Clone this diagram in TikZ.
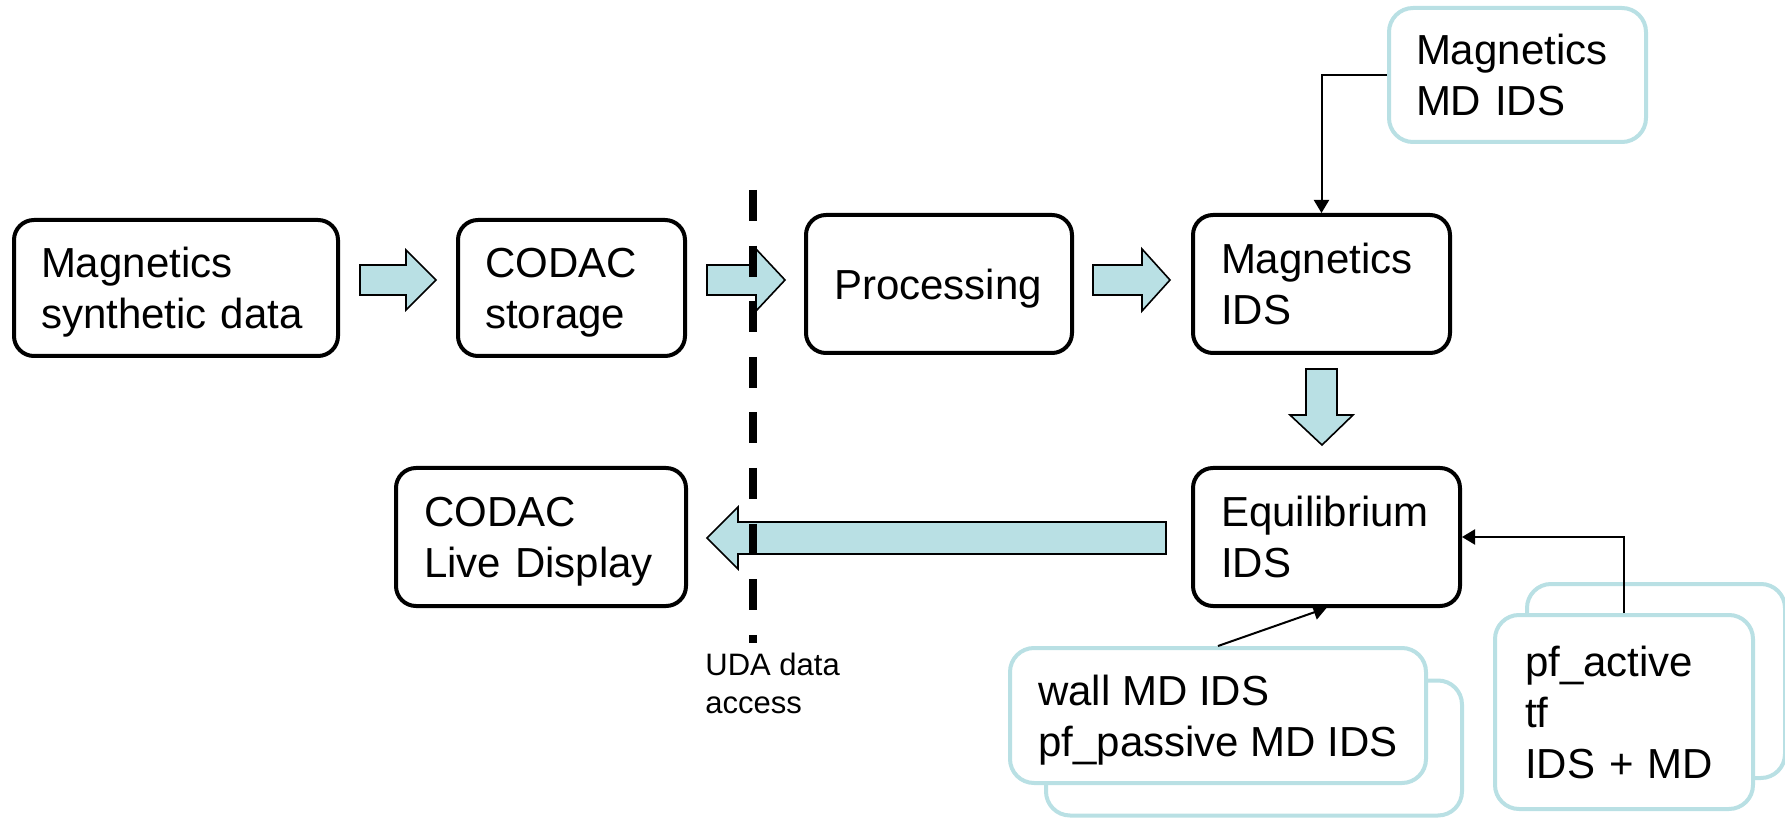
\documentclass[tikz,border=0pt]{standalone}
\usepackage{fontspec}
\setmainfont{Liberation Sans}
\usetikzlibrary{arrows.meta}
\definecolor{paleblue}{RGB}{185,224,228}
% a line whose descenders do not count when the text is centred
\newcommand\nodp[1]{\raisebox{0pt}[\height][0pt]{#1}}
\begin{document}
\begin{tikzpicture}[x=0.5pt,y=-0.5pt,
  box/.style={draw=black, line width=2pt, rounded corners=10pt, fill=white,
    align=left, inner ysep=0pt, font=\fontsize{21}{25.5}\selectfont},
  mdbox/.style={box, draw=paleblue, rounded corners=12pt},
  flow/.style={draw=black, line width=0.8pt, fill=paleblue, line join=miter},
  conn/.style={line width=1pt, -{Triangle[length=6.5pt,width=7.5pt]}},
  divider/.style={line width=4pt, dash pattern=on 15.5pt off 12.3pt},
  note/.style={align=left, inner sep=0pt, font=\fontsize{15.5}{18.8}\selectfont}]
\useasboundingbox (0,0) rectangle (1785,818);

% stacked metadata boxes (back sheets first)
\node[mdbox, minimum width=208pt, minimum height=67.5pt] (wallback) at (1254,748) {};
\node[mdbox, minimum width=129pt, minimum height=97pt] (pfback) at (1656,681) {};

% main processing chain
\node[box, minimum width=162pt, minimum height=68pt, inner xsep=13.5pt, text width=135pt]
  (synth) at (176,288) {Magnetics\\\nodp{synthetic data}};
\node[box, minimum width=113.5pt, minimum height=68pt, inner xsep=13.5pt, text width=86.5pt]
  (storage) at (571.5,288) {CODAC\\\nodp{storage}};
\node[box, minimum width=133pt, minimum height=69pt, inner xsep=14pt, text width=105pt]
  (proc) at (939,284) {\nodp{Processing}};
\node[box, minimum width=128.5pt, minimum height=69pt, inner xsep=14pt, text width=100.5pt]
  (magids) at (1321.5,284) {Magnetics\\IDS};
\node[box, minimum width=133.5pt, minimum height=69pt, inner xsep=14pt, text width=105.5pt]
  (eqids) at (1326.5,537) {Equilibrium\\IDS};
\node[box, minimum width=145pt, minimum height=69pt, inner xsep=14pt, text width=117pt]
  (live) at (541,537) {CODAC\\\nodp{Live Display}};

% machine description inputs
\node[mdbox, minimum width=128.5pt, minimum height=67pt, inner xsep=13.5pt, text width=101.5pt]
  (mdids) at (1517.5,75) {Magnetics\\MD IDS};
\node[mdbox, minimum width=208pt, minimum height=67.5pt, inner xsep=12pt]
  (wall) at (1218,715.5) {wall MD IDS\\\nodp{pf\_passive MD IDS}};
\node[mdbox, minimum width=129pt, minimum height=97pt, inner xsep=15pt, text width=99pt]
  (pf) at (1624,712) {pf\_active\\tf\\IDS + MD};

% block arrows of the data flow
\draw[flow] (360,265) -- (406,265) -- (406,250) -- (436,280) -- (406,310) -- (406,295) -- (360,295) -- cycle;
\draw[flow] (707,265) -- (756,265) -- (756,249) -- (785,280) -- (756,311) -- (756,295) -- (707,295) -- cycle;
\draw[flow] (1093,265) -- (1142,265) -- (1142,249) -- (1170,280) -- (1142,311) -- (1142,295) -- (1093,295) -- cycle;
\draw[flow] (1306,369) -- (1337,369) -- (1337,415) -- (1353,415) -- (1322,445) -- (1290,415) -- (1306,415) -- cycle;
\draw[flow] (1166,522) -- (738,522) -- (738,507) -- (707,538) -- (738,569) -- (738,554) -- (1166,554) -- cycle;

% data access boundary
\coordinate (divtop) at (753,190);
\coordinate (divbot) at (753,643);
\draw[divider] (divtop) -- (divbot);
\node[note, anchor=north west] (uda) at (705,653) {UDA data\\access};

% metadata connectors
\draw[conn] (mdids.west) -| (magids.north);
\draw[conn] (wall.north) -- (eqids.south);
\draw[conn] (pf.north) |- (eqids.east);
\end{tikzpicture}
\end{document}
